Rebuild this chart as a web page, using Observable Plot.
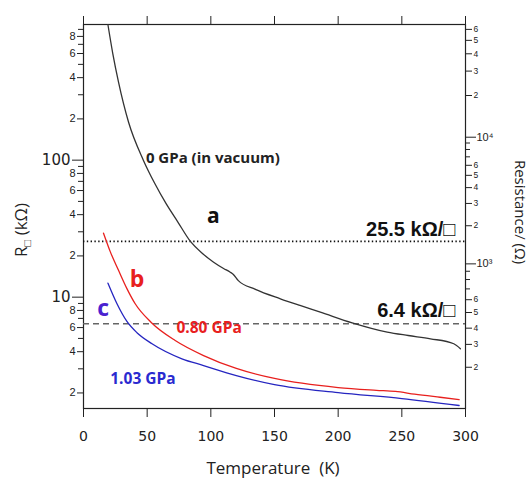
<!DOCTYPE html>
<html><head><meta charset="utf-8">
<script src="https://cdn.jsdelivr.net/npm/d3@7"></script>
<script src="https://cdn.jsdelivr.net/npm/@observablehq/plot@0.6"></script>
<style>body{margin:0;background:#fff} #chart{width:531px;height:478px}</style>
</head><body><div id="chart"></div>
<script>
// ---- data ----
const tempA = [19.2, 23, 27.5, 35.4, 47, 56, 65, 74, 84, 93, 102.2, 110, 115.3, 117.5, 121.6, 135, 154.6, 170, 186, 211, 238.5, 255, 272.5, 290.8, 296];
const resA  = [973, 600, 371, 189, 100, 67.5, 47.9, 35.5, 25.5, 21.0, 18.0, 16.2, 15.2, 14.7, 13.2, 11.4, 9.73, 8.7, 7.78, 6.5, 5.56, 5.25, 4.97, 4.57, 4.2];
const tempB = [15.7, 21, 27.5, 34, 40.6, 53.2, 72, 94.3, 120, 150, 200, 230, 245, 260, 280, 295];
const resB  = [29.3, 21.5, 15.7, 11.6, 8.95, 6.54, 4.83, 3.75, 3.02, 2.55, 2.19, 2.09, 2.05, 1.96, 1.86, 1.79];
const tempC = [19.2, 26.3, 34.1, 42, 53.8, 77.3, 94.3, 120, 150, 200, 250, 295];
const resC  = [12.65, 8.95, 6.65, 5.5, 4.57, 3.55, 3.17, 2.68, 2.3, 2.01, 1.82, 1.62];

const xTicks = [0, 50, 100, 150, 200, 250, 300];
const yMajor = [10, 100];
const yLabeled = [2, 4, 6, 8, 20, 40, 60, 80, 200, 400, 600, 800];
const yMinor = [3, 5, 7, 9, 30, 50, 70, 90, 300, 500, 700, 900];

const ohmPowers = [1000, 10000];
const ohmPowerLabels = ["10³", "10⁴"];
const ohmLabeled = [200, 300, 400, 500, 600, 2000, 3000, 4000, 5000, 6000, 20000, 30000, 40000, 50000, 60000];
const ohmMinor = [700, 800, 900, 7000, 8000, 9000];
// calibration of the right-hand (Ω) axis against R□ (kΩ)
const calibOhm = [200, 400, 1000, 10000, 60000];
const calibKsq = [3.08, 5.94, 17.5, 147, 900];

const thresholds = [25.5, 6.4];

const annotations = [
  {x: 49, y: 103, text: "0 GPa (in vacuum)", c: "#222", size: 15, anchor: "start"},
  {x: 102, y: 38.8, text: "a", c: "#111", size: 21, anchor: "middle"},
  {x: 292, y: 31.2, text: "25.5 kΩ/□", c: "#111", size: 20, anchor: "end", font: "Liberation Sans"},
  {x: 292, y: 8.0, text: "6.4 kΩ/□", c: "#111", size: 20, anchor: "end", font: "Liberation Sans"},
  {x: 42, y: 13.4, text: "b", c: "#e8201e", size: 23, anchor: "middle"},
  {x: 15.5, y: 8.3, text: "c", c: "#4a22d0", size: 23, anchor: "middle"},
  {x: 73, y: 6.0, text: "0.80 GPa", c: "#e8201e", size: 15.5, anchor: "start"},
  {x: 21, y: 2.54, text: "1.03 GPa", c: "#2a2ad0", size: 15.5, anchor: "start"}
];

// ---- build ----
const toTable = (ts, rs) => ts.map((t, i) => ({T: t, R: rs[i]}));
const curveA = toTable(tempA, resA), curveB = toTable(tempB, resB), curveC = toTable(tempC, resC);
const logInterp = d3.scaleLinear().domain(calibOhm.map(Math.log10)).range(calibKsq.map(Math.log10));
const ohmToKsq = v => Math.pow(10, logInterp(Math.log10(v)));

const axFont = "DejaVu Sans";
const noLabel = () => "";
const svg = Plot.plot({
  width: 531, height: 478,
  marginLeft: 83, marginRight: 66, marginTop: 24, marginBottom: 70,
  x: {domain: [0, 300], label: null},
  y: {type: "log", domain: [1.54, 977], label: null},
  style: {background: "#fff", color: "#222"},
  marks: [
    Plot.frame({stroke: "#222", strokeWidth: 1.2}),
    Plot.axisX(xTicks, {anchor: "bottom", tickSize: 9, tickPadding: 14, fontSize: 14, fontFamily: axFont, label: null}),
    Plot.axisX(xTicks, {anchor: "top", tickSize: 9, tickFormat: noLabel, label: null}),
    // left axis: tick lines
    Plot.axisY(yMajor, {anchor: "left", tickSize: 11, tickFormat: noLabel, label: null}),
    Plot.axisY(yLabeled, {anchor: "left", tickSize: 6, tickFormat: noLabel, label: null}),
    Plot.axisY(yMinor, {anchor: "left", tickSize: 5, tickFormat: noLabel, label: null}),
    // left axis: labels
    Plot.text(yMajor, {y: d => d, text: d => String(d), frameAnchor: "left", dx: -13, textAnchor: "end", fontSize: 15, fontFamily: axFont, fill: "#222"}),
    Plot.text(yLabeled, {y: d => d, text: d => String(d)[0], frameAnchor: "left", dx: -8, textAnchor: "end", fontSize: 11, fontFamily: "Liberation Sans", fill: "#222"}),
    // right axis (Ω)
    Plot.axisY(ohmPowers.map(ohmToKsq), {anchor: "right", tickSize: 10, tickFormat: noLabel, label: null}),
    Plot.axisY(ohmLabeled.map(ohmToKsq), {anchor: "right", tickSize: 6, tickFormat: noLabel, label: null}),
    Plot.axisY(ohmMinor.map(ohmToKsq), {anchor: "right", tickSize: 4, tickFormat: noLabel, label: null}),
    Plot.text(ohmPowers, {y: d => ohmToKsq(d), text: (d, i) => ohmPowerLabels[i], frameAnchor: "right", dx: 11, textAnchor: "start", fontSize: 11, fontFamily: "Liberation Sans", fill: "#222"}),
    Plot.text(ohmLabeled, {y: d => ohmToKsq(d), text: d => String(d)[0], frameAnchor: "right", dx: 8, textAnchor: "start", fontSize: 8.5, fontFamily: "Liberation Sans", fill: "#222"}),
    // thresholds
    Plot.ruleY([thresholds[0]], {stroke: "#111", strokeWidth: 1.8, strokeDasharray: "1.4,2.4"}),
    Plot.ruleY([thresholds[1]], {stroke: "#666", strokeWidth: 1.3, strokeDasharray: "6,4"}),
    // curves
    Plot.line(curveA, {x: "T", y: "R", stroke: "#333", strokeWidth: 1.3, curve: "monotone-x"}),
    Plot.line(curveB, {x: "T", y: "R", stroke: "#e8201e", strokeWidth: 1.3, curve: "monotone-x"}),
    Plot.line(curveC, {x: "T", y: "R", stroke: "#2525c0", strokeWidth: 1.3, curve: "monotone-x"}),
    ...annotations.map(a => Plot.text([a], {x: "x", y: "y", text: "text", fill: a.c, fontSize: a.size, fontWeight: "bold",
      fontFamily: a.font || "Open Sans", textAnchor: a.anchor}))
  ]
});

const s = d3.select(svg);
const lt = s.append("text").attr("transform", "translate(27,230) rotate(-90)").attr("text-anchor", "middle")
  .attr("font-family", "Open Sans").attr("font-size", 17).attr("fill", "#222");
lt.append("tspan").text("R");
lt.append("tspan").text("□").attr("font-size", 11).attr("dy", 4);
lt.append("tspan").text(" (kΩ)").attr("dy", -4);
s.append("text").attr("transform", "translate(515,212) rotate(90)").attr("text-anchor", "middle")
  .attr("font-family", "Open Sans").attr("font-size", 15).attr("fill", "#222").text("Resistance/ (Ω)");
s.append("text").attr("x", 273).attr("y", 474).attr("text-anchor", "middle")
  .attr("font-family", "Open Sans").attr("font-size", 17).attr("fill", "#222").text("Temperature\u00a0 (K)");

document.getElementById("chart").append(svg);
</script>
</body></html>
